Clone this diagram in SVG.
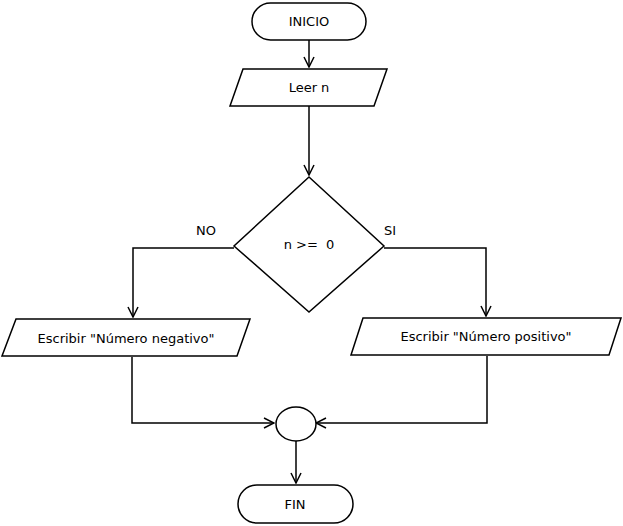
<svg xmlns="http://www.w3.org/2000/svg" width="623" height="526" viewBox="0 0 623 526">
<style>
.s{fill:#fff;stroke:#000;stroke-width:1.5}
.t{font-family:"DejaVu Sans",sans-serif;font-size:13px;fill:#000;text-anchor:middle;dominant-baseline:central}
.c{fill:none;stroke:#000;stroke-width:1.5}
</style>
<defs>
<marker id="a" viewBox="0 0 12 12" refX="11" refY="6" markerWidth="12" markerHeight="12" markerUnits="userSpaceOnUse" orient="auto">
<path d="M1,1 L11,6 L1,11" fill="none" stroke="#000" stroke-width="1.5"/>
</marker>
</defs>
<rect width="623" height="526" fill="#fff"/>
<g id="connectors">
<path class="c" d="M309,40 V67" marker-end="url(#a)"/>
<path class="c" d="M309,106 V175" marker-end="url(#a)"/>
<path class="c" d="M234,248 H133 V317" marker-end="url(#a)"/>
<path class="c" d="M384,248 H486 V316" marker-end="url(#a)"/>
<path class="c" d="M132,357 V423 H274" marker-end="url(#a)"/>
<path class="c" d="M487,356 V423 H316" marker-end="url(#a)"/>
<path class="c" d="M296,441 V483" marker-end="url(#a)"/>
<text class="t" x="206" y="230">NO</text>
<text class="t" x="390" y="230">SI</text>
</g>
<g id="inicio">
<rect class="s" x="252" y="3" width="114" height="37" rx="18.5"/>
<text class="t" x="309" y="21.5">INICIO</text>
</g>
<g id="leer">
<polygon class="s" points="243,69 387,69 374,106 230,106"/>
<text class="t" x="309" y="87.5">Leer n</text>
</g>
<g id="decision">
<polygon class="s" points="309,177 384,246 309,312 234,246"/>
<text class="t" x="309" y="244" xml:space="preserve">n &gt;=  0</text>
</g>
<g id="negativo">
<polygon class="s" points="16,319 250,319 237,356 2,356"/>
<text class="t" x="126" y="338">Escribir "Número negativo"</text>
</g>
<g id="positivo">
<polygon class="s" points="363,318 621,318 609,355 351,355"/>
<text class="t" x="486" y="336">Escribir "Número positivo"</text>
</g>
<g id="union">
<ellipse class="s" cx="296" cy="424" rx="20" ry="17"/>
</g>
<g id="fin">
<rect class="s" x="238" y="485" width="115" height="38" rx="19"/>
<text class="t" x="295" y="504">FIN</text>
</g>
</svg>
